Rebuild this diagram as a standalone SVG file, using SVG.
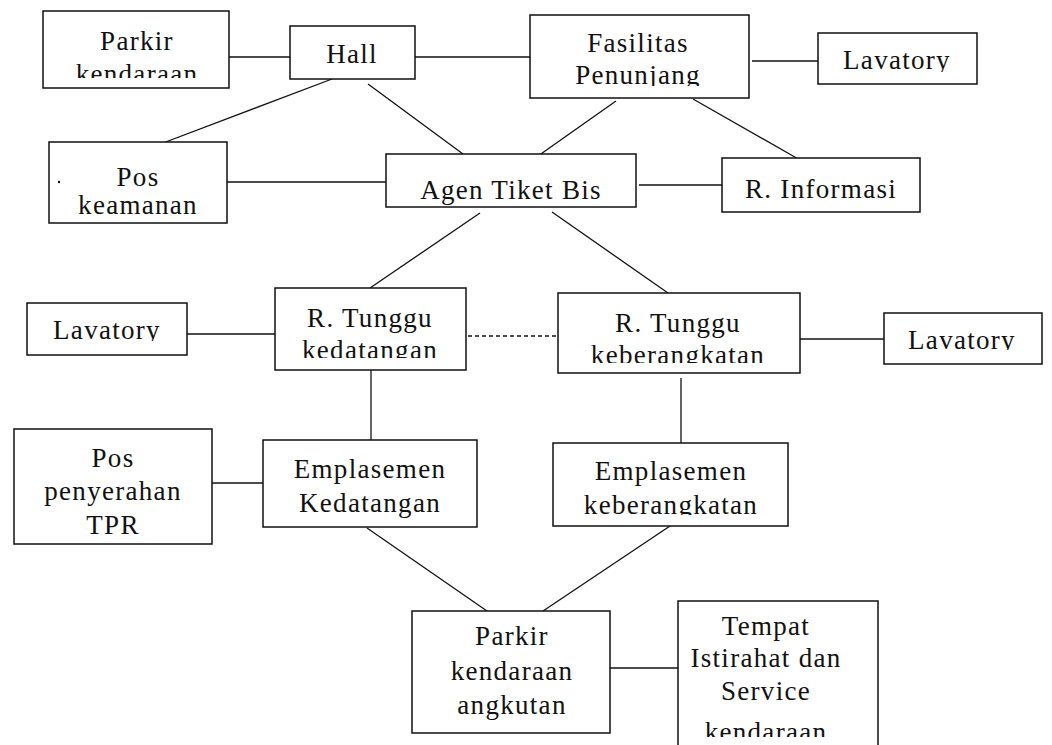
<svg xmlns="http://www.w3.org/2000/svg" width="1052" height="745" viewBox="0 0 1052 745">
  <style>
    .box { fill: #fff; stroke: #111; stroke-width: 1.5; }
    .edge { fill: none; stroke: #111; stroke-width: 1.3; }
    .dash { stroke-dasharray: 4 3; }
    text { font-family: "Liberation Serif", "Times New Roman", serif; font-size: 27px; fill: #111; text-anchor: middle; letter-spacing: 1.3px; }
  </style>
  <defs>
    <!-- bottom cut-offs for labels whose lower edge is trimmed by their box -->
    <clipPath id="clip-parkir"><rect x="0" y="0" width="1052" height="78"/></clipPath>
    <clipPath id="clip-fasilitas"><rect x="0" y="0" width="1052" height="86"/></clipPath>
    <clipPath id="clip-lav1"><rect x="0" y="0" width="1052" height="72"/></clipPath>
    <clipPath id="clip-rtk"><rect x="0" y="0" width="1052" height="358"/></clipPath>
    <clipPath id="clip-rtb"><rect x="0" y="0" width="1052" height="363"/></clipPath>
    <clipPath id="clip-lav2"><rect x="0" y="0" width="1052" height="341"/></clipPath>
    <clipPath id="clip-lav3"><rect x="0" y="0" width="1052" height="350"/></clipPath>
    <clipPath id="clip-emb"><rect x="0" y="0" width="1052" height="515"/></clipPath>
    <clipPath id="clip-tempat"><rect x="0" y="0" width="1052" height="737"/></clipPath>
  </defs>

  <g id="connectors">
    <line class="edge" x1="229" y1="57" x2="290" y2="57"/>
    <line class="edge" x1="415" y1="57" x2="530" y2="57"/>
    <line class="edge" x1="332" y1="79" x2="163" y2="143"/>
    <line class="edge" x1="368" y1="84" x2="463" y2="154"/>
    <line class="edge" x1="752" y1="61" x2="818" y2="61"/>
    <line class="edge" x1="616" y1="101" x2="538" y2="156"/>
    <line class="edge" x1="693" y1="99" x2="800" y2="160"/>
    <line class="edge" x1="227" y1="182" x2="386" y2="182"/>
    <line class="edge" x1="639" y1="185" x2="722" y2="185"/>
    <line class="edge" x1="480" y1="213" x2="370" y2="288"/>
    <line class="edge" x1="552" y1="212" x2="668" y2="293"/>
    <line class="edge" x1="187" y1="334" x2="275" y2="334"/>
    <line class="edge dash" x1="468" y1="336" x2="557" y2="336"/>
    <line class="edge" x1="800" y1="339" x2="884" y2="339"/>
    <line class="edge" x1="371" y1="370" x2="371" y2="440"/>
    <line class="edge" x1="681" y1="378" x2="681" y2="443"/>
    <line class="edge" x1="212" y1="483" x2="263" y2="483"/>
    <line class="edge" x1="367" y1="528" x2="487" y2="611"/>
    <line class="edge" x1="673" y1="524" x2="543" y2="611"/>
    <line class="edge" x1="610" y1="668" x2="679" y2="668"/>
  </g>

  <g id="parkir-kendaraan">
    <rect class="box" x="43" y="11" width="186" height="77"/>
    <text x="137" y="50">Parkir</text>
    <text x="137" y="83" clip-path="url(#clip-parkir)">kendaraan</text>
  </g>

  <g id="hall">
    <rect class="box" x="290" y="26" width="125" height="53"/>
    <text x="352" y="63">Hall</text>
  </g>

  <g id="fasilitas-penunjang">
    <rect class="box" x="530" y="15" width="219" height="83"/>
    <text x="638" y="52">Fasilitas</text>
    <text x="638" y="84" clip-path="url(#clip-fasilitas)">Penunjang</text>
  </g>

  <g id="lavatory-atas">
    <rect class="box" x="818" y="33" width="159" height="51"/>
    <text x="897" y="69" clip-path="url(#clip-lav1)">Lavatory</text>
  </g>

  <g id="pos-keamanan">
    <rect class="box" x="49" y="142" width="178" height="81"/>
    <circle cx="59" cy="182" r="1.2" fill="#111"/>
    <text x="138" y="186">Pos</text>
    <text x="138" y="214">keamanan</text>
  </g>

  <g id="agen-tiket-bis">
    <rect class="box" x="386" y="154" width="250" height="53"/>
    <text x="511" y="199">Agen Tiket Bis</text>
  </g>

  <g id="r-informasi">
    <rect class="box" x="722" y="158" width="198" height="54"/>
    <text x="821" y="198">R. Informasi</text>
  </g>

  <g id="lavatory-kiri">
    <rect class="box" x="27" y="303" width="160" height="52"/>
    <text x="107" y="339" clip-path="url(#clip-lav2)">Lavatory</text>
  </g>

  <g id="r-tunggu-kedatangan">
    <rect class="box" x="275" y="288" width="191" height="82"/>
    <text x="370" y="327">R. Tunggu</text>
    <text x="370" y="359" clip-path="url(#clip-rtk)">kedatangan</text>
  </g>

  <g id="r-tunggu-keberangkatan">
    <rect class="box" x="558" y="293" width="242" height="80"/>
    <text x="678" y="332">R. Tunggu</text>
    <text x="678" y="364" clip-path="url(#clip-rtb)">keberangkatan</text>
  </g>

  <g id="lavatory-kanan">
    <rect class="box" x="884" y="313" width="158" height="51"/>
    <text x="962" y="349" clip-path="url(#clip-lav3)">Lavatory</text>
  </g>

  <g id="pos-penyerahan-tpr">
    <rect class="box" x="14" y="429" width="198" height="115"/>
    <text x="113" y="467">Pos</text>
    <text x="113" y="500">penyerahan</text>
    <text x="113" y="534">TPR</text>
  </g>

  <g id="emplasemen-kedatangan">
    <rect class="box" x="263" y="440" width="214" height="87"/>
    <text x="370" y="478">Emplasemen</text>
    <text x="370" y="512">Kedatangan</text>
  </g>

  <g id="emplasemen-keberangkatan">
    <rect class="box" x="553" y="443" width="235" height="83"/>
    <text x="671" y="480">Emplasemen</text>
    <text x="671" y="514" clip-path="url(#clip-emb)">keberangkatan</text>
  </g>

  <g id="parkir-kendaraan-angkutan">
    <rect class="box" x="412" y="611" width="198" height="122"/>
    <text x="512" y="645">Parkir</text>
    <text x="512" y="680">kendaraan</text>
    <text x="512" y="714">angkutan</text>
  </g>

  <g id="tempat-istirahat">
    <path class="box" d="M678 746 V601 H878 V746"/>
    <text x="766" y="635">Tempat</text>
    <text x="766" y="667">Istirahat dan</text>
    <text x="766" y="700">Service</text>
    <text x="766" y="741" clip-path="url(#clip-tempat)">kendaraan</text>
  </g>
</svg>
